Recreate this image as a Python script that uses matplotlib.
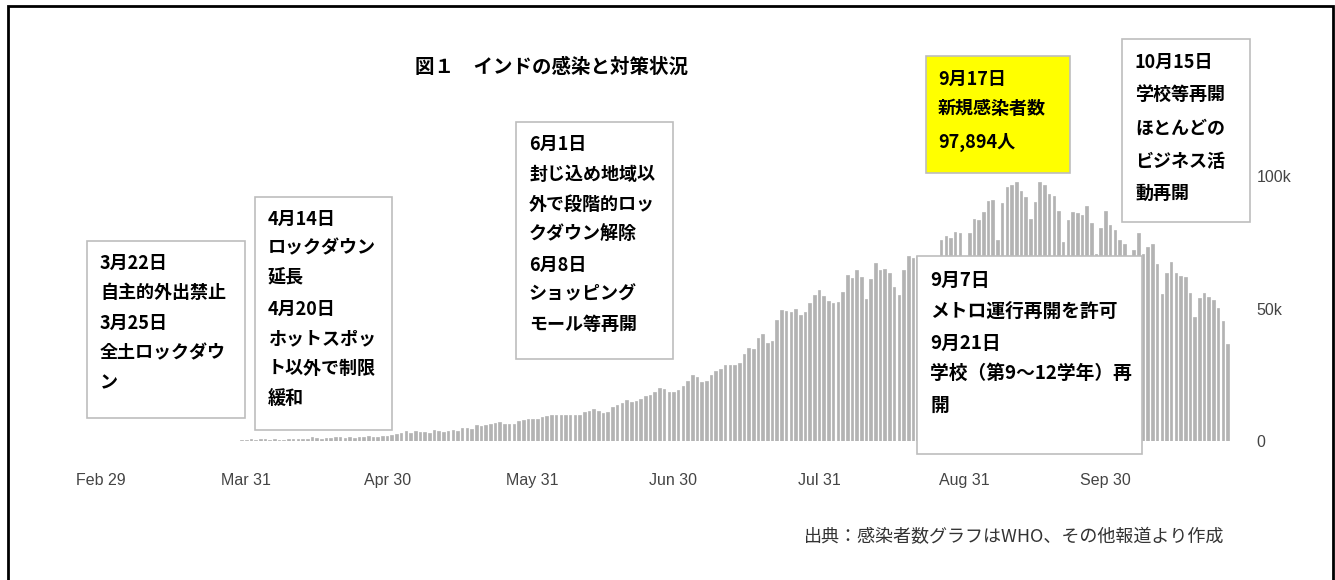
import numpy as np
import matplotlib
matplotlib.use('Agg')
import matplotlib.pyplot as plt
from matplotlib.patches import Rectangle

# daily new cases, Mar 1 .. Oct 26 2020
mar = [0, 2, 1, 22, 2, 1, 3, 5, 4, 13, 6, 11, 10, 19, 14, 10, 24, 28, 14, 94,
       74, 86, 73, 57, 111, 86, 0, 160, 106, 227, 303]
apr = [601, 545, 625, 583, 505, 704, 508, 485, 591, 896, 768, 918, 905, 1463, 1118,
       826, 1076, 957, 1324, 1580, 1239, 1537, 1292, 1667, 1408, 1835, 1607, 1568, 1902, 1705]
may = [2396, 2564, 2952, 3656, 2971, 3602, 3344, 3339, 3175, 4311, 3592, 3562, 3726, 3991,
       3808, 4794, 5049, 4628, 6147, 5553, 6198, 6568, 6629, 7113, 6414, 6382, 6566, 7467,
       7964, 8380, 8392]
jun = [8171, 8909, 9304, 9851, 9887, 9971, 9983, 9987, 9985, 9996, 10956, 11458, 11929,
       11502, 10667, 10974, 12881, 13586, 14516, 15413, 14821, 14933, 15968, 16922, 17296,
       18552, 19906, 19459, 18522, 18653]
jul = [19148, 20903, 22771, 24850, 24248, 22252, 22752, 24879, 26506, 27114, 28637, 28701,
       28498, 29429, 32695, 34956, 34884, 38902, 40425, 37148, 37724, 45720, 49310, 48916,
       48661, 49931, 47704, 48513, 52123, 55079, 57118]
aug = [54736, 52972, 52050, 52509, 56282, 62538, 61537, 64399, 62064, 53601, 60963, 66999,
       64553, 65002, 63490, 57981, 55079, 64531, 69652, 68898, 69878, 69239, 61408, 60975,
       67151, 75760, 77266, 76472, 78761, 78512, 69921]
sep = [78357, 83883, 83341, 86432, 90632, 90802, 75809, 89706, 95735, 96551, 97570, 94372,
       92071, 83809, 90123, 97894, 96424, 93337, 92605, 86961, 75083, 83347, 86508, 86052,
       85362, 88600, 82170, 70589, 80472, 86821]
oct_ = [81484, 79476, 75829, 74442, 61267, 72049, 78524, 70496, 73272, 74383, 66732, 55342,
        63509, 67708, 63371, 62212, 61871, 55722, 46791, 54044, 55839, 54366, 53370, 50129,
        45148, 36470]

cases = mar + apr + may + jun + jul + aug + sep + oct_
days = np.arange(1, len(cases) + 1)   # day 0 = Feb 29

tick_days = [0, 31, 61, 92, 122, 153, 184, 214]
tick_labels = ['Feb 29', 'Mar 31', 'Apr 30', 'May 31', 'Jun 30', 'Jul 31', 'Aug 31', 'Sep 30']
y_ticks = [0, 50000, 100000]
y_labels = ['0', '50k', '100k']

title = '図１　インドの感染と対策状況'
source = '出典：感染者数グラフはWHO、その他報道より作成'
notes_mar = ['3月22日', '自主的外出禁止', '3月25日', '全土ロックダウ', 'ン']
notes_apr = ['4月14日', 'ロックダウン', '延長', '4月20日', 'ホットスポッ', 'ト以外で制限', '緩和']
notes_jun = ['6月1日', '封じ込め地域以', '外で段階的ロッ', 'クダウン解除', '6月8日', 'ショッピング', 'モール等再開']
notes_peak = ['9月17日', '新規感染者数', '97,894人']
notes_oct = ['10月15日', '学校等再開', 'ほとんどの', 'ビジネス活', '動再開']
notes_sep = ['9月7日', 'メトロ運行再開を許可', '9月21日', '学校（第9～12学年）再', '開']

W, H = 1335, 580
JP = ['Noto Sans CJK JP', 'DejaVu Sans']


def fx(px):
    return px / W


def fy(py):
    return 1 - py / H


fig = plt.figure(figsize=(W / 100, H / 100), dpi=100)
ax = fig.add_axes([fx(77.2), fy(441), (1251 - 77.2) / W, 278.25 / H])

# thin edge in the same grey keeps the tiny early bars visible, like the original
ax.bar(days, cases, width=0.55, color='#b3b3b3', edgecolor='#b3b3b3', linewidth=0.5)
ax.set_xlim(-5, 245)
ax.set_ylim(0, 105000)
ax.set_xticks(tick_days)
ax.set_xticklabels(tick_labels, family='Liberation Sans', fontsize=11.5, color='#444444')
ax.set_yticks(y_ticks)
ax.set_yticklabels(y_labels, family='Liberation Sans', fontsize=11.5, color='#444444')
ax.yaxis.tick_right()
ax.tick_params(axis='x', length=0, pad=23)
ax.tick_params(axis='y', length=0, pad=4)
for s in ax.spines.values():
    s.set_visible(False)


def note_box(left, top, right, bottom, lines, text_x, line_y, face='white', size=13):
    fig.patches.append(Rectangle((fx(left), fy(bottom)), (right - left) / W, (bottom - top) / H,
                                 transform=fig.transFigure, facecolor=face,
                                 edgecolor='#bdbdbd', linewidth=1.2, zorder=2))
    for txt, yy in zip(lines, line_y):
        fig.text(fx(text_x), fy(yy), txt, family=JP, fontweight='bold', fontsize=size,
                 ha='left', va='center', color='black', zorder=3)


note_box(87.5, 241, 245, 418, notes_mar, 100, [263, 293, 323, 353, 383])
note_box(255, 197, 391.5, 430, notes_apr, 268, [219, 248, 278, 309, 339, 369, 399])
note_box(516, 122, 673, 359, notes_jun, 529, [144, 174, 204, 234, 265, 294, 324])
note_box(926, 56, 1070, 173, notes_peak, 938, [79, 109, 142], face='#ffff00')
note_box(1122, 39, 1250, 222, notes_oct, 1135, [62, 94, 128, 161, 193])
note_box(917, 256, 1142, 454, notes_sep, 930, [280, 311, 343, 373, 405], size=13.5)

fig.text(fx(551.5), fy(67), title, family=JP, fontweight='bold', fontsize=14,
         ha='center', va='center')
fig.text(fx(1224), fy(537), source, family=JP, fontsize=13, color='#333333',
         ha='right', va='center')

# outer frame
fig.patches.append(Rectangle((fx(8), -0.05), (1333 - 8) / W, fy(6) + 0.05,
                             transform=fig.transFigure, fill=False,
                             edgecolor='black', linewidth=2, zorder=4))

fig.savefig('out.png', dpi=100)
